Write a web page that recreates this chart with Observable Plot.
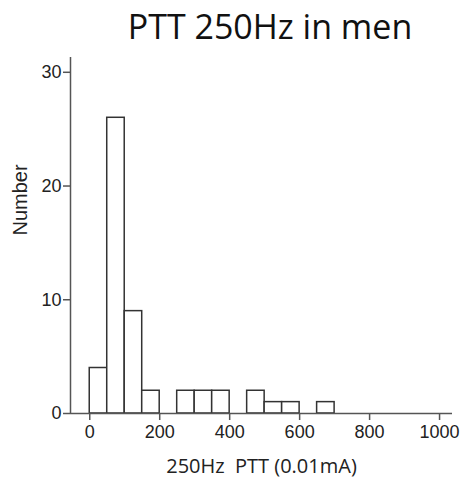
<!DOCTYPE html>
<html>
<head>
<meta charset="utf-8">
<script src="https://cdn.jsdelivr.net/npm/d3@7"></script>
<script src="https://cdn.jsdelivr.net/npm/@observablehq/plot@0.6"></script>
<style>
  body { margin: 0; background: #fff; }
  #wrap { position: relative; width: 465px; height: 481px; overflow: hidden; }
  #title { position: absolute; left: 0; width: 540px; top: 5px; text-align: center;
           font-family: "Open Sans", sans-serif; font-size: 34px; color: #111; line-height: 42px; }
  #chart { position: absolute; left: 0; top: 0; }
</style>
</head>
<body>
<div id="wrap">
  <div id="chart"></div>
  <div id="title">PTT 250Hz in men</div>
</div>
<script>
const binStarts = [0, 50, 100, 150, 200, 250, 300, 350, 400, 450, 500, 550, 600, 650];
const binWidth = 50;
const counts = [4, 26, 9, 2, 0, 2, 2, 2, 0, 2, 1, 1, 0, 1];
const xTicks = [0, 200, 400, 600, 800, 1000];
const yTicks = [0, 10, 20, 30];
const titleText = "PTT 250Hz in men";
const xLabel = "250Hz  PTT (0.01mA)";
const yLabel = "Number";

const bins = binStarts.map((s, i) => ({x1: s, x2: s + binWidth, n: counts[i]})).filter(d => d.n > 0);

const plot = Plot.plot({
  width: 465,
  height: 481,
  marginLeft: 70,
  marginRight: 13,
  marginTop: 57,
  marginBottom: 68,
  style: {fontFamily: "'Liberation Sans', Arial, sans-serif", background: "white"},
  x: {domain: [-55, 1037]},
  y: {domain: [0, 31.3]},
  marks: [
    Plot.rectY(bins, {x1: "x1", x2: "x2", y: "n", fill: "white", stroke: "#333", strokeWidth: 1.5}),
    Plot.ruleX([-55], {stroke: "#555", strokeWidth: 1.5}),
    Plot.ruleY([0], {stroke: "#555", strokeWidth: 1.5}),
    Plot.axisY({ticks: yTicks, tickFormat: d => String(d), tickSize: 7, tickPadding: 2, fontSize: 18, stroke: "#555", strokeWidth: 1.5, fill: "#222", label: null}),
    Plot.axisX({ticks: xTicks, tickFormat: d => String(d), tickSize: 7, tickPadding: 5, fontSize: 18, stroke: "#555", strokeWidth: 1.5, fill: "#222", label: null}),
    Plot.text([xLabel], {frameAnchor: "bottom", dy: 59, fontSize: 20, fontFamily: "'Open Sans', sans-serif", fill: "#222", text: d => d}),
    Plot.text([yLabel], {frameAnchor: "left", dx: -50, rotate: -90, fontSize: 20, fill: "#222", text: d => d})
  ]
});
document.getElementById("chart").appendChild(plot);
document.getElementById("title").textContent = titleText;
</script>
</body>
</html>
